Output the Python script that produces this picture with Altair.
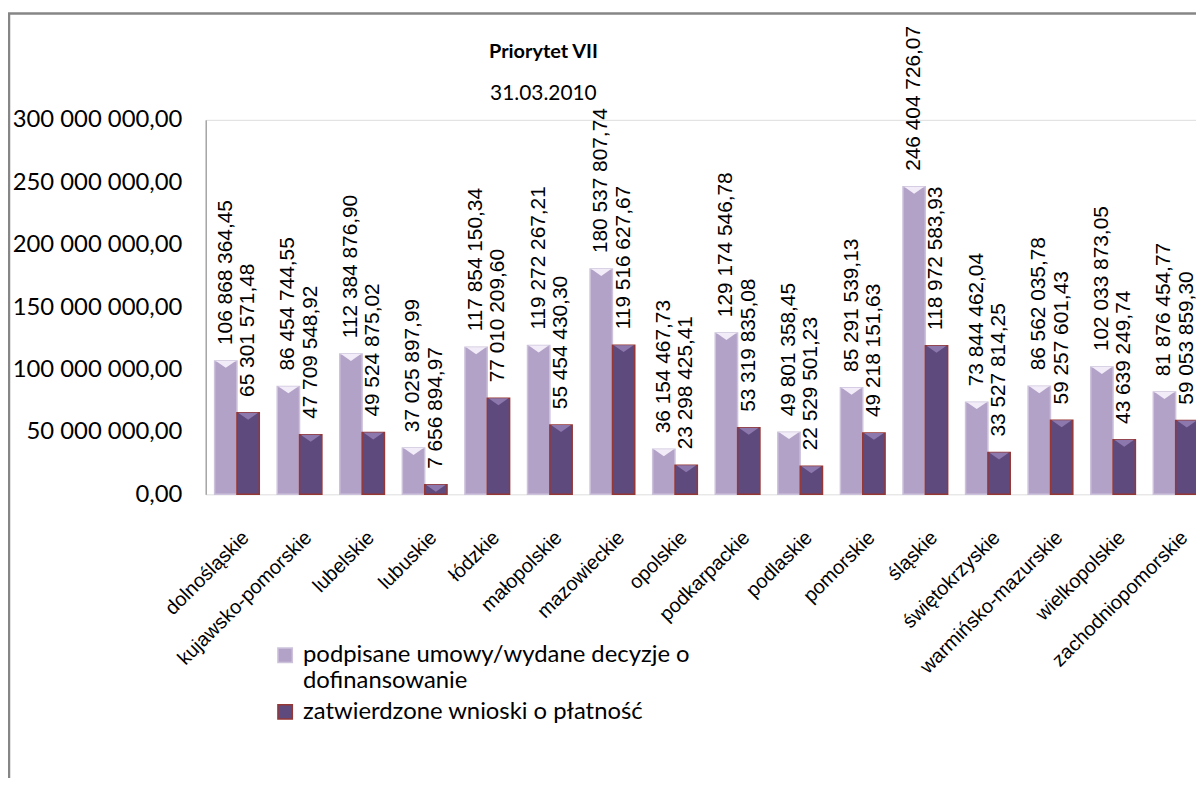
import altair as alt
import pandas as pd

regions = ["dolnośląskie", "kujawsko-pomorskie", "lubelskie", "lubuskie", "łódzkie",
           "małopolskie", "mazowieckie", "opolskie", "podkarpackie", "podlaskie",
           "pomorskie", "śląskie", "świętokrzyskie", "warmińsko-mazurskie",
           "wielkopolskie", "zachodniopomorskie"]
signed = [106868364.45, 86454744.55, 112384876.90, 37025897.99, 117854150.34,
          119272267.21, 180537807.74, 36154467.73, 129174546.78, 49801358.45,
          85291539.13, 246404726.07, 73844462.04, 86562035.78, 102033873.05,
          81876454.77]
approved = [65301571.48, 47709548.92, 49524875.02, 7656894.97, 77010209.60,
            55454430.30, 119516627.67, 23298425.41, 53319835.08, 22529501.23,
            49218151.63, 118972583.93, 33527814.25, 59257601.43, 43639249.74,
            59053859.30]
series = ["podpisane umowy/wydane decyzje o dofinansowanie",
          "zatwierdzone wnioski o płatność"]
y_ticks = [0, 50e6, 100e6, 150e6, 200e6, 250e6, 300e6]
title_text = "Priorytet VII"
subtitle_text = "31.03.2010"

rows = []
for r, a, b in zip(regions, signed, approved):
    rows.append({"region": r, "series": series[0], "value": a})
    rows.append({"region": r, "series": series[1], "value": b})
df = pd.DataFrame(rows)

pl_fmt = "replace(replace(format({v}, ',.2f'), regexp(',', 'g'), ' '), '.', ',')"

fill_scale = alt.Scale(domain=series, range=["#B3A2C7", "#5F4A7E"])
stroke_scale = alt.Scale(domain=series, range=["#CDC2DC", "#953735"])

legend = alt.Legend(
    orient="none", legendX=68, legendY=527, title=None,
    labelFont="Lato", labelFontSize=24, labelColor="#000000", labelLimit=800,
    symbolType="square", symbolSize=210, symbolStrokeWidth=1.5,
    rowPadding=7, labelOffset=6,
    labelExpr=("datum.label == '" + series[0] + "' ? "
               "['podpisane umowy/wydane decyzje o', 'dofinansowanie'] : datum.label"),
)

x_enc = alt.X("region:N", sort=regions,
              scale=alt.Scale(range=[0, 1008], paddingInner=0.286, paddingOuter=0.143),
              axis=alt.Axis(title=None, labelAngle=315, labelAlign="right",
                            labelBaseline="top", labelPadding=33, labelOffset=2,
                            labelFont="Liberation Sans", labelFontSize=20,
                            labelColor="#000000", ticks=False, domain=False,
                            labelOverlap=False, labelLimit=400))
xo_enc = alt.XOffset("series:N", sort=series,
                     scale=alt.Scale(paddingInner=0, paddingOuter=0))
y_enc = alt.Y("value:Q", scale=alt.Scale(domain=[0, 300e6], nice=False),
              axis=alt.Axis(title=None, values=y_ticks, grid=False, ticks=False,
                            labelExpr=pl_fmt.format(v="datum.value"),
                            labelFont="Lato", labelFontSize=24, labelColor="#000000",
                            labelPadding=24, domainColor="#868686", domainWidth=1))

base = alt.Chart(df).encode(x=x_enc, xOffset=xo_enc, y=y_enc)

bars = base.mark_bar(strokeWidth=1.5).encode(
    color=alt.Color("series:N", sort=series, scale=fill_scale, legend=legend),
    stroke=alt.Stroke("series:N", sort=series, scale=stroke_scale, legend=legend),
)

cap_light = base.transform_filter(alt.datum.series == series[0]).mark_point(
    shape="M-1,0L1,0L0,0.7Z", filled=True, size=400, color="#F1ECF8", opacity=1)
cap_dark = base.transform_filter(alt.datum.series == series[1]).mark_point(
    shape="M-1,0L1,0L0,0.7Z", filled=True, size=400, color="#8C78AD", opacity=1)

labels = base.transform_calculate(
    label=pl_fmt.format(v="datum.value")
).mark_text(angle=270, align="left", baseline="middle", dx=16,
            font="Liberation Sans", fontSize=21, color="#000000").encode(
    text="label:N")

frame = alt.Chart(pd.DataFrame({"k": [0]})).mark_rect(
    fillOpacity=0, stroke="#868686", strokeWidth=2.5).encode(
    x=alt.value(-198), x2=alt.value(1400), y=alt.value(-107), y2=alt.value(1000))

title_mark = alt.Chart(pd.DataFrame({"t": [title_text]})).mark_text(
    font="Lato", fontSize=20, fontWeight="bold", color="#000000",
    align="center", baseline="middle").encode(
    text="t:N", x=alt.value(340), y=alt.value(-68))
subtitle_mark = alt.Chart(pd.DataFrame({"t": [subtitle_text]})).mark_text(
    font="Lato", fontSize=21, color="#000000",
    align="center", baseline="middle").encode(
    text="t:N", x=alt.value(340), y=alt.value(-26))

chart = alt.layer(frame, bars, cap_light, cap_dark, labels,
                  title_mark, subtitle_mark).properties(
    width=997, height=377,
    padding={"left": 199, "top": 110, "right": 0, "bottom": 283},
    autosize=alt.AutoSizeParams(type="none"),
).configure_view(stroke=None).configure(background="#FFFFFF")

chart.save("out.html", embed_options={"renderer": "svg", "actions": False})
